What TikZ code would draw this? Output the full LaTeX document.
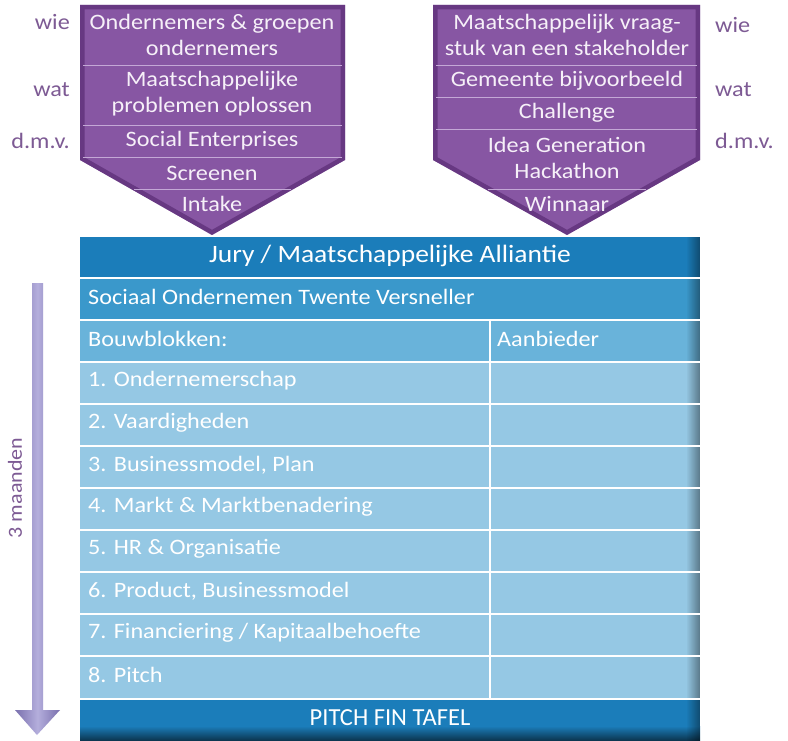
\documentclass[tikz,border=0pt]{standalone}
\usepackage{fontspec}
\setmainfont{Carlito}[FakeStretch=1.1]
\newfontfamily\pitchfont{Carlito}
\usetikzlibrary{fadings}
\definecolor{purp}{HTML}{8756A3}
\definecolor{purpdark}{HTML}{4E2068}
\definecolor{purpline}{HTML}{C4A8D6}
\definecolor{lblpurp}{HTML}{7D5A94}
\definecolor{txtwhite}{HTML}{F6F0F8}
\definecolor{hdrblue}{HTML}{1B7DBA}
\definecolor{rowtwo}{HTML}{3A98CB}
\definecolor{rowthree}{HTML}{69B3DA}
\definecolor{itemblue}{HTML}{95C8E4}
\definecolor{arrowlav}{HTML}{B4AEDC}
\definecolor{arrowdark}{HTML}{7A70AE}
\tikzfading[name=fadeR, left color=transparent!100, right color=transparent!0]
\tikzset{
  chevtxt/.style={text=txtwhite, font=\fontsize{22}{26}\selectfont, align=center, inner sep=0pt},
  sidelbl/.style={text=lblpurp, font=\fontsize{22}{26}\selectfont, inner sep=0pt},
  rowtxt/.style={text=white, font=\fontsize{22}{26}\selectfont, anchor=west, inner sep=0pt},
  sepline/.style={purpline, line width=1pt},
  whiteline/.style={white, line width=2pt},
}
\begin{document}
\begin{tikzpicture}[x=1pt,y=-1pt]
\useasboundingbox (0,0) rectangle (788,741);
\fill[white] (0,0) rectangle (788,741);

% ---------- left chevron ----------
\fill[purp] (80,5) -- (345,5) -- (345,160) -- (212,235) -- (80,160) -- cycle;
\begin{scope}
  \clip (80,5) -- (345,5) -- (345,160) -- (212,235) -- (80,160) -- cycle;
  \draw[purpdark, line width=9pt, opacity=0.55] (80,5) -- (345,5) -- (345,160) -- (212,235) -- (80,160) -- cycle;
\end{scope}
\draw[sepline] (83,66) -- (342,66);
\draw[sepline] (83,126) -- (342,126);
\draw[sepline] (83,158) -- (342,158);
\draw[sepline] (134,190) -- (291,190);

\node[chevtxt] (l1) at (212,35) {Ondernemers \& groepen\\ondernemers};
\node[chevtxt] (l2) at (212,94) {Maatschappelijke\\problemen oplossen};
\node[chevtxt] (l3) at (212,141) {Social Enterprises};
\node[chevtxt] (l4) at (212,173) {Screenen};
\node[chevtxt] (l5) at (212,204) {Intake};

\node[sidelbl, anchor=east] (lwie) at (70,22) {wie};
\node[sidelbl, anchor=east] (lwat) at (70,90) {wat};
\node[sidelbl, anchor=east] (ldmv) at (70,141) {d.m.v.};

% ---------- right chevron ----------
\fill[purp] (433,5) -- (700,5) -- (700,160) -- (567,235) -- (433,160) -- cycle;
\begin{scope}
  \clip (433,5) -- (700,5) -- (700,160) -- (567,235) -- (433,160) -- cycle;
  \draw[purpdark, line width=9pt, opacity=0.55] (433,5) -- (700,5) -- (700,160) -- (567,235) -- (433,160) -- cycle;
\end{scope}
\draw[sepline] (436,66) -- (697,66);
\draw[sepline] (436,98) -- (697,98);
\draw[sepline] (436,130) -- (697,130);
\draw[sepline] (488,190) -- (646,190);

\node[chevtxt] (r1) at (567,35) {Maatschappelijk vraag-\\stuk van een stakeholder};
\node[chevtxt] (r2) at (567,81) {Gemeente bijvoorbeeld};
\node[chevtxt] (r3) at (567,113) {Challenge};
\node[chevtxt] (r4) at (567,158) {Idea Generation\\Hackathon};
\node[chevtxt] (r5) at (567,204) {Winnaar};

\node[sidelbl, anchor=west] (rwie) at (715,25) {wie};
\node[sidelbl, anchor=west] (rwat) at (715,90) {wat};
\node[sidelbl, anchor=west] (rdmv) at (715,141) {d.m.v.};

% ---------- table ----------
\fill[hdrblue] (80,237) rectangle (700,278);
\fill[rowtwo] (80,278) rectangle (700,320);
\fill[rowthree] (80,320) rectangle (700,362);
\fill[itemblue] (80,362) rectangle (700,700);
\fill[hdrblue] (80,700) rectangle (700,741);
\shade[top color=hdrblue, bottom color=hdrblue!40!black] (80,726) rectangle (700,741);
\fill[black, opacity=0.4, path fading=fadeR] (686,237) rectangle (700,741);

\foreach \yy in {278,320,362,404,446,488,530,572,614,656,699}
  \draw[whiteline] (80,\yy) -- (700,\yy);
\draw[whiteline] (490,320) -- (490,699);

\node[text=white, font=\fontsize{25}{28}\selectfont, inner sep=0pt] (jury) at (390,256) {Jury / Maatschappelijke Alliantie};
\node[rowtxt] (sot) at (88,297) {Sociaal Ondernemen Twente Versneller};
\node[rowtxt] (bouw) at (88,339) {Bouwblokken:};
\node[rowtxt] (aanb) at (497,339) {Aanbieder};
\node[rowtxt] (b1) at (88,381) {1. Ondernemerschap};
\node[rowtxt] (b2) at (88,423) {2. Vaardigheden};
\node[rowtxt] (b3) at (88,465) {3. Businessmodel, Plan};
\node[rowtxt] (b4) at (88,507) {4. Markt \& Marktbenadering};
\node[rowtxt] (b5) at (88,549) {5. HR \& Organisatie};
\node[rowtxt] (b6) at (88,591) {6. Product, Businessmodel};
\node[rowtxt] (b7) at (88,633) {7. Financiering / Kapitaalbehoefte};
\node[rowtxt] (b8) at (88,675) {8. Pitch};
\node[text=white, font=\pitchfont\fontsize{24.5}{28}\selectfont, inner sep=0pt] (pitch) at (390,718) {PITCH FIN TAFEL};

% ---------- time arrow ----------
\shade[left color=arrowdark, right color=arrowdark, middle color=arrowlav]
  (32,283) -- (43,283) -- (43,710) -- (60,710) -- (37,735) -- (15,710) -- (32,710) -- cycle;
\node[text=lblpurp, font=\fontsize{20}{22}\selectfont, rotate=90, inner sep=0pt] (maanden) at (15,488) {3 maanden};
\end{tikzpicture}
\end{document}
